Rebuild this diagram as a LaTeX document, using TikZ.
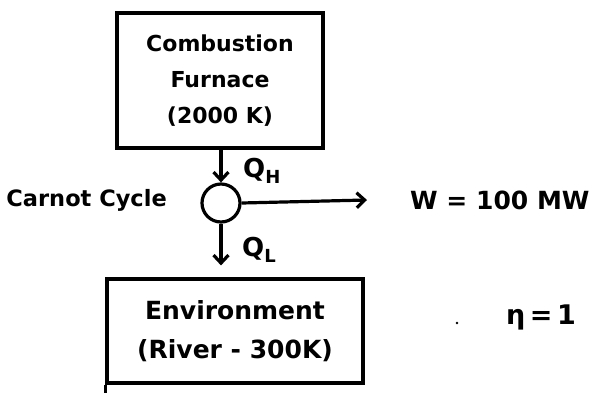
\documentclass[tikz,border=0pt]{standalone}
\usepackage{fontspec}
\setmainfont{DejaVu Sans}
\usetikzlibrary{arrows.meta}
\begin{document}
\begin{tikzpicture}[x=1pt,y=-1pt,
  box/.style={draw, line width=3.2pt, inner sep=0pt, align=center},
  flow/.style={line width=3.2pt, -{Straight Barb[length=8pt,width=15pt]}},
  lab/.style={inner sep=0pt}]
\useasboundingbox (0,0) rectangle (592,392);
\node[box, minimum width=206pt, minimum height=135pt, font=\bfseries\fontsize{22}{36}\selectfont] (fur) at (220,80.5) {Combustion\\Furnace\\(2000 K)};
\node[draw, circle, line width=3.2pt, minimum size=38pt, inner sep=0pt] (cyc) at (221,203) {};
\node[box, minimum width=256pt, minimum height=104pt, font=\bfseries\fontsize{25}{39}\selectfont] (env) at (235,331) {Environment\\(River - 300K)};
\draw[flow] (fur.south -| cyc.north) -- (cyc.north);
\draw[flow, shorten >=12pt] (cyc.south) -- (cyc.south |- env.north);
\coordinate (wend) at (367,200);
\draw[flow] (cyc.east) -- (wend);
\node[lab, anchor=west, font=\bfseries\fontsize{26}{26}\selectfont] (qh) at (243,171) {Q\raisebox{-6pt}{\fontsize{18}{18}\selectfont H}};
\node[lab, anchor=west, font=\bfseries\fontsize{26}{26}\selectfont] (ql) at (242,250) {Q\raisebox{-6pt}{\fontsize{18}{18}\selectfont L}};
\node[lab, anchor=east, font=\bfseries\fontsize{22.5}{22.5}\selectfont] (cc) at (167,200) {Carnot Cycle};
\node[lab, anchor=west, font=\bfseries\fontsize{25}{25}\selectfont] (w) at (410,200) {W = 100 MW};
\node[lab, font=\bfseries\fontsize{27}{27}\selectfont] (eta) at (541,317) {η\,=\,1};
\fill (457,323) circle (1.4pt);
\draw[line width=3.2pt] (env.south west) -- ++(0,9);
\end{tikzpicture}
\end{document}
